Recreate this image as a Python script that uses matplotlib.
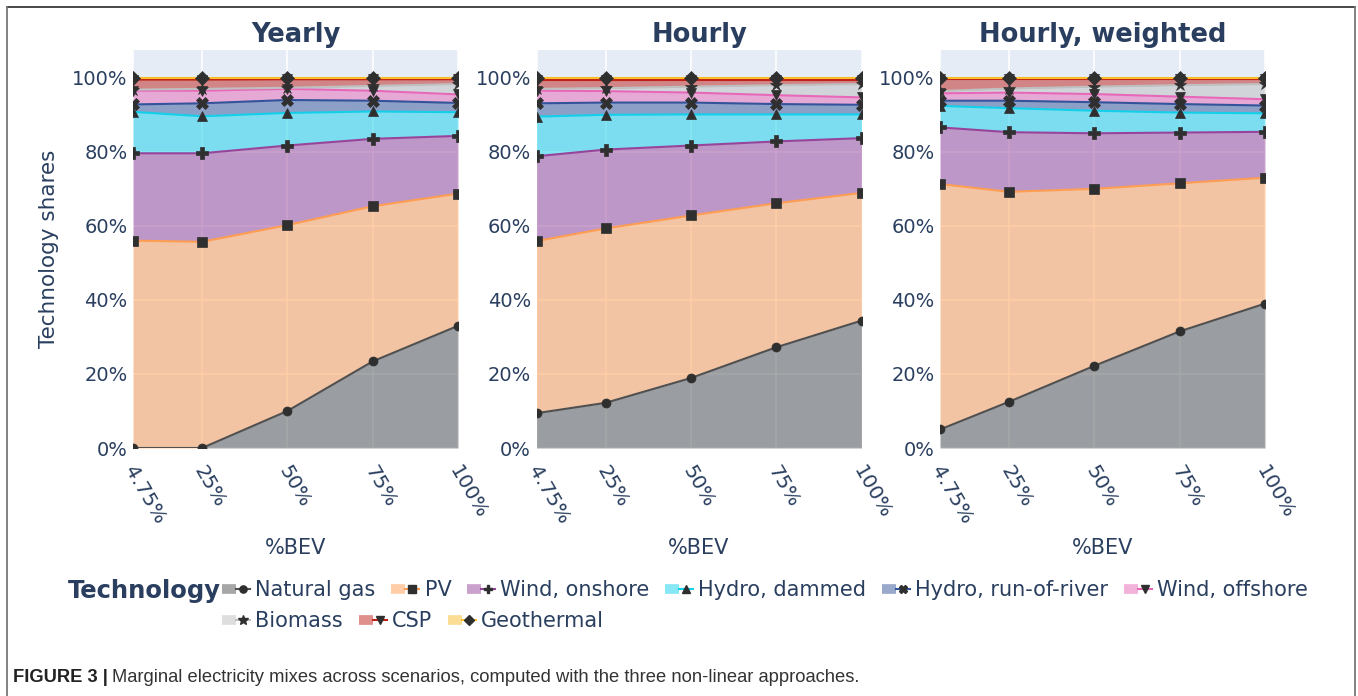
import matplotlib
matplotlib.use("Agg")
import matplotlib.pyplot as plt
from matplotlib.lines import Line2D
from matplotlib.legend_handler import HandlerTuple
from matplotlib.transforms import ScaledTranslation
import numpy as np

# BEV penetration levels (x axis)
bev_levels = [4.75, 25, 50, 75, 100]
bev_labels = ["4.75%", "25%", "50%", "75%", "100%"]

technologies = ["Natural gas", "PV", "Wind, onshore", "Hydro, dammed",
                "Hydro, run-of-river", "Wind, offshore", "Biomass", "CSP",
                "Geothermal"]

# Shares (%) of each technology in the marginal mix, one row per technology
yearly_shares = [
    [0.0, 0.0, 10.0, 23.4, 33.0],
    [56.0, 55.7, 50.2, 41.9, 35.7],
    [23.6, 23.9, 21.5, 18.2, 15.6],
    [11.2, 10.0, 8.8, 7.4, 6.4],
    [2.0, 3.5, 3.5, 2.9, 2.5],
    [3.7, 3.4, 3.0, 2.7, 2.3],
    [0.3, 0.5, 0.3, 1.3, 2.8],
    [2.7, 2.5, 2.3, 1.8, 1.3],
    [0.5, 0.5, 0.4, 0.4, 0.4],
]
hourly_shares = [
    [9.4, 12.2, 18.9, 27.2, 34.4],
    [46.5, 47.1, 43.9, 38.9, 34.5],
    [22.9, 21.3, 18.9, 16.7, 14.8],
    [10.7, 9.4, 8.4, 7.3, 6.4],
    [3.6, 3.3, 3.2, 2.8, 2.6],
    [3.4, 3.1, 2.7, 2.4, 2.0],
    [0.5, 0.8, 1.6, 2.7, 3.6],
    [2.4, 2.2, 1.8, 1.4, 1.1],
    [0.6, 0.6, 0.6, 0.6, 0.6],
]
hourly_weighted_shares = [
    [5.0, 12.5, 22.2, 31.5, 39.0],
    [66.3, 56.7, 47.8, 40.0, 34.0],
    [15.3, 16.1, 15.0, 13.7, 12.4],
    [5.8, 6.5, 6.1, 5.4, 5.0],
    [1.4, 2.0, 2.3, 2.3, 2.1],
    [2.0, 2.2, 2.2, 2.0, 1.7],
    [0.6, 1.1, 2.0, 3.1, 4.1],
    [3.4, 2.7, 2.2, 1.8, 1.5],
    [0.2, 0.2, 0.2, 0.2, 0.2],
]
panel_titles = ["Yearly", "Hourly", "Hourly, weighted"]
panel_data = [yearly_shares, hourly_shares, hourly_weighted_shares]

line_colors = ["#505050", "#FF9E52", "#97449A", "#13D0EA", "#33549A",
               "#E768B8", "#BFBFBF", "#C0201A", "#F9BE2A"]
markers = ["o", "s", "P", "^", "X", "v", "*", "v", "D"]
marker_sizes = [6.5, 6.5, 8, 7, 8, 7, 9, 7, 7]
marker_color = "#2f2f2f"
text_color = "#2a3f5f"
bg_color = "#E5ECF6"

plt.rcParams["font.family"] = ["DejaVu Sans"]

W, H = 1358, 696
fig = plt.figure(figsize=(W / 100, H / 100), dpi=100)

panel_lefts = [133, 536.5, 940]
panel_w, top_px, bottom_px = 325, 50, 448

axes = []
for k, (left, title, shares) in enumerate(zip(panel_lefts, panel_titles, panel_data)):
    ax = fig.add_axes([left / W, 1 - bottom_px / H, panel_w / W, (bottom_px - top_px) / H])
    axes.append(ax)
    ax.set_facecolor(bg_color)
    for s in ax.spines.values():
        s.set_visible(False)
    ax.set_axisbelow(True)
    ax.grid(True, color="white", lw=1.1)
    x = np.array(bev_levels)
    cum = np.cumsum(np.array(shares, dtype=float), axis=0)
    prev = np.zeros_like(x, dtype=float)
    for i in range(len(technologies)):
        ax.fill_between(x, prev, cum[i], color=line_colors[i], alpha=0.5, lw=0, zorder=1)
        prev = cum[i]
    for i in range(len(technologies)):
        ax.plot(x, cum[i], color=line_colors[i], lw=1.5, zorder=2)
    for i in range(len(technologies)):
        ax.plot(x, cum[i], ls="none", marker=markers[i], ms=marker_sizes[i],
                mfc=marker_color, mec=marker_color, mew=0.5, zorder=3)
    ax.set_xlim(4.75, 100)
    ax.set_ylim(0, 107.5)
    ax.set_yticks([0, 20, 40, 60, 80, 100])
    ax.set_yticklabels([f"{v}%" for v in [0, 20, 40, 60, 80, 100]])
    ax.set_xticks(bev_levels)
    ax.set_xticklabels(bev_labels)
    ax.tick_params(axis="y", length=0, pad=4, labelsize=14, labelcolor=text_color)
    ax.tick_params(axis="x", length=0, pad=13.5, labelsize=14.5, labelcolor=text_color)
    shift = ScaledTranslation(-4 / 100, 0, fig.dpi_scale_trans)
    for lab in ax.get_xticklabels():
        lab.set_rotation(-60)
        lab.set_ha("left")
        lab.set_va("center")
        lab.set_rotation_mode("anchor")
        lab.set_transform(lab.get_transform() + shift)
    ax.set_title(title, fontsize=18.5, fontweight="bold", color=text_color, pad=6)
    ax.set_xlabel("%BEV", fontsize=15, color=text_color, labelpad=8)

axes[0].set_ylabel("Technology shares", fontsize=15.5, color=text_color, labelpad=9)

# Legend built as two rows, each entry = translucent band + line with marker
handles = []
for i in range(len(technologies)):
    band = Line2D([], [], color=line_colors[i], alpha=0.5, lw=7, solid_capstyle="butt")
    line = Line2D([], [], color=line_colors[i], lw=1.5, marker=markers[i],
                  ms=marker_sizes[i] * 0.8, mfc=marker_color, mec=marker_color)
    handles.append((band, line))

fig.text(68 / W, 1 - 591 / H, "Technology", fontsize=17.5, fontweight="bold",
         color=text_color, ha="left", va="center")
leg_kw = dict(frameon=False, fontsize=15, labelcolor=text_color, handlelength=1.35,
              handletextpad=0.25, columnspacing=0.75, borderpad=0, borderaxespad=0,
              handler_map={tuple: HandlerTuple(ndivide=None, pad=0)})
leg1 = fig.legend(handles[:6], technologies[:6], ncol=6, loc="center left",
                  bbox_to_anchor=(222 / W, 1 - 590 / H), **leg_kw)
leg2 = fig.legend(handles[6:], technologies[6:], ncol=3, loc="center left",
                  bbox_to_anchor=(222 / W, 1 - 621 / H), **leg_kw)

# Outer frame
frame_kw = dict(color="#3a3a3a", lw=1.3, transform=fig.transFigure)
fig.add_artist(Line2D([7 / W, 1355 / W], [1 - 7 / H, 1 - 7 / H], **frame_kw))
fig.add_artist(Line2D([7 / W, 7 / W], [0, 1 - 7 / H], color="#777777", lw=1.3,
                      transform=fig.transFigure))
fig.add_artist(Line2D([1355 / W, 1355 / W], [0, 1 - 7 / H], color="#777777", lw=1.3,
                      transform=fig.transFigure))

# Caption
cap_family = ["Liberation Sans Narrow", "Liberation Sans"]
t1 = fig.text(13 / W, 1 - 678 / H, "FIGURE 3 |", fontsize=13.2, fontweight="bold",
              color="#222222", ha="left", va="center", family=cap_family)
fig.canvas.draw()
bb = t1.get_window_extent()
fig.text((bb.x1 + 4) / W, 1 - 678 / H,
         "Marginal electricity mixes across scenarios, computed with the three non-linear approaches.",
         fontsize=13.2, color="#333333", ha="left", va="center", family=cap_family)

fig.savefig("out.png", dpi=100, facecolor="white")
